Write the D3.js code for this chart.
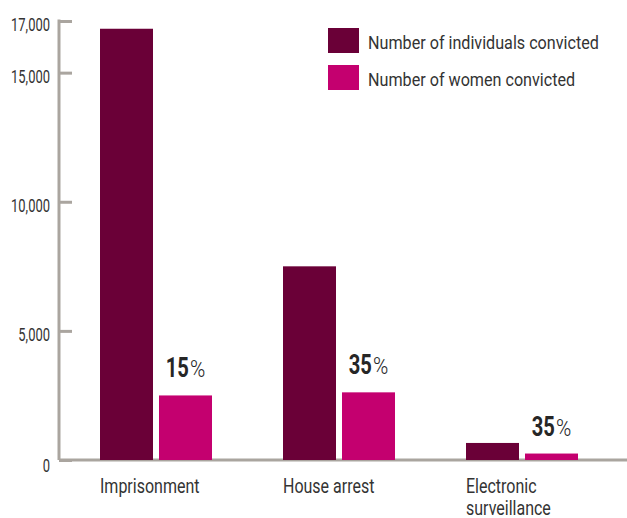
<!DOCTYPE html>
<html>
<head>
<meta charset="utf-8">
<script src="https://cdn.jsdelivr.net/npm/d3@7"></script>
<style>
  body { margin: 0; background: #fff; }
  text { font-family: Roboto, 'DejaVu Sans Condensed', sans-serif; fill: #333; }
</style>
</head>
<body>
<svg id="chart" width="627" height="518"></svg>
<script>
// data
var categories = ['Imprisonment', 'House arrest', 'Electronic surveillance'];
var seriesNames = ['Number of individuals convicted', 'Number of women convicted'];
var individuals = [16700, 7500, 660];
var women = [2500, 2620, 250];
var shareLabels = ['15', '35', '35'];
var yTicks = [0, 5000, 10000, 15000, 17000];

var colors = ['#6a0037', '#c4006f'];
var axisColor = '#aaa59f';

var svg = d3.select('#chart');

var y = d3.scaleLinear().domain([0, 17000]).range([460, 21]);

var x0 = d3.scaleBand().domain(categories).range([100, 578]).paddingInner(71 / 183);
var x1 = d3.scaleBand().domain(seriesNames).range([0, x0.bandwidth()]).paddingInner(0.1017);

// condensed look: squeeze text horizontally around its anchor point
function place(sel, sx) {
  sel.attr('transform', function () {
    var t = d3.select(this);
    return 'translate(' + t.attr('data-x') + ',' + t.attr('data-y') + ') scale(' + sx + ',1)';
  });
}

// axes
var yAxis = svg.append('g')
  .attr('transform', 'translate(59,0)')
  .call(d3.axisRight(y).tickValues(yTicks).tickSize(13).tickFormat(''));
yAxis.select('.domain').remove();
yAxis.selectAll('.tick line').attr('stroke', axisColor).attr('stroke-width', 3);

svg.append('line')
  .attr('x1', 59).attr('x2', 59)
  .attr('y1', y(17000) - 1.5).attr('y2', y(0))
  .attr('stroke', axisColor).attr('stroke-width', 3);
svg.append('line')
  .attr('x1', 59).attr('x2', 627)
  .attr('y1', y(0)).attr('y2', y(0))
  .attr('stroke', axisColor).attr('stroke-width', 3);

svg.selectAll('.ylab')
  .data(yTicks)
  .enter()
  .append('text')
  .attr('class', 'ylab')
  .attr('data-x', 50)
  .attr('data-y', function (d) { return y(d) + 10 + (d === 0 ? 2 : 0); })
  .attr('text-anchor', 'end')
  .style('font-size', '18px')
  .text(function (d) { return d === 0 ? '0' : d3.format(',')(d); })
  .call(place, 0.72);

// bars
var groups = svg.selectAll('.grp')
  .data(categories)
  .enter()
  .append('g')
  .attr('class', 'grp')
  .attr('transform', function (d) { return 'translate(' + x0(d) + ',0)'; });

groups.selectAll('rect')
  .data(function (d, i) { return [individuals[i], women[i]]; })
  .enter()
  .append('rect')
  .attr('x', function (d, j) { return x1(seriesNames[j]); })
  .attr('y', function (d) { return y(d); })
  .attr('width', x1.bandwidth())
  .attr('height', function (d) { return y(0) - y(d); })
  .attr('fill', function (d, j) { return colors[j]; });

// share labels above women bars: bold number + light percent sign, centred on the bar
svg.selectAll('.pct')
  .data(categories)
  .enter()
  .append('g')
  .attr('class', 'pct')
  .each(function (d, i) {
    var g = d3.select(this);
    var num = g.append('text')
      .attr('transform', 'scale(0.72,1)')
      .style('font-size', '28px')
      .style('font-weight', 'bold')
      .style('fill', '#262626')
      .text(shareLabels[i]);
    var w1 = num.node().getComputedTextLength() * 0.72 + 1;
    var sign = g.append('text')
      .attr('transform', 'translate(' + w1 + ',0) scale(0.9,1)')
      .style('font-size', '23px')
      .style('font-weight', '300')
      .style('fill', '#262626')
      .text('%');
    var w = w1 + sign.node().getComputedTextLength() * 0.9;
    var cx = x0(d) + x1(seriesNames[1]) + x1.bandwidth() / 2;
    g.attr('transform', 'translate(' + (cx - w / 2) + ',' + (y(women[i]) - 18) + ')');
  });

// category labels
svg.selectAll('.cat')
  .data(categories)
  .enter()
  .append('text')
  .attr('class', 'cat')
  .attr('data-x', function (d) { return x0(d); })
  .attr('data-y', 493)
  .style('font-size', '20px')
  .each(function (d) {
    var words = d === 'Electronic surveillance' ? ['Electronic', 'surveillance'] : [d];
    var t = d3.select(this);
    words.forEach(function (w, k) {
      t.append('tspan').attr('x', 0).attr('dy', k === 0 ? 0 : 22).text(w);
    });
  })
  .call(place, 0.8);

// legend
var legend = svg.selectAll('.leg')
  .data(seriesNames)
  .enter()
  .append('g')
  .attr('class', 'leg')
  .attr('transform', function (d, i) { return 'translate(328,' + (28 + i * 37) + ')'; });
legend.append('rect')
  .attr('width', 31).attr('height', 25)
  .attr('fill', function (d, i) { return colors[i]; });
legend.append('text')
  .attr('data-x', 40).attr('data-y', 21)
  .style('font-size', '19px')
  .text(function (d) { return d; })
  .call(place, 0.85);
</script>
</body>
</html>
